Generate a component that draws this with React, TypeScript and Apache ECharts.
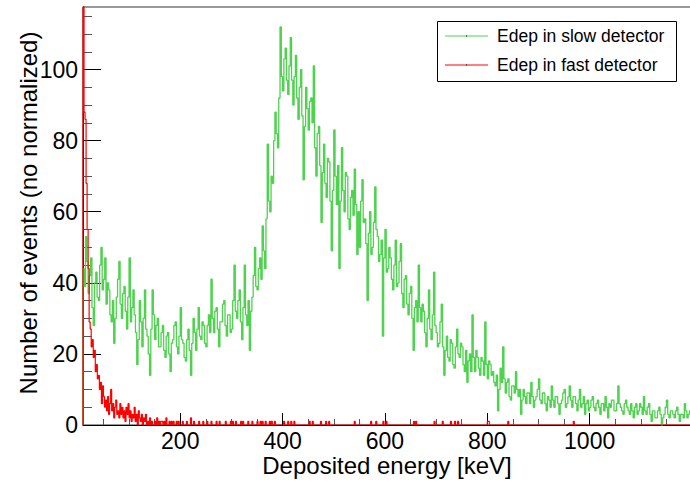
import React, { useEffect, useRef } from "react";
import * as echarts from "echarts";

// ---- axes ----
const X_MIN = 10;
const X_MAX = 1200;
const Y_MIN = 0;
const Y_MAX = 117.6;
const xMajorTicks = [200, 400, 600, 800, 1000];
const xMinorTicks = [50, 100, 150, 250, 300, 350, 450, 500, 550, 650, 700, 750, 850, 900, 950, 1050, 1100, 1150];
const yMajorTicks = [0, 20, 40, 60, 80, 100];
const yMinorTicks = [5, 10, 15, 25, 30, 35, 45, 50, 55, 65, 70, 75, 85, 90, 95, 105, 110, 115];

const xTitle = "Deposited energy [keV]";
const yTitle = "Number of events (no normalized)";
const slowName = "Edep in slow detector";
const fastName = "Edep in fast detector";

// ---- slow detector histogram: 2.5 keV bins starting at 10 keV ----
const slowBinStart = 10;
const slowBinWidth = 2.5;
const slowCounts = [
  44, 39, 53, 46, 37, 42, 47, 33, 28, 40, 43, 36, 35, 45, 50, 38, 41, 47, 34, 40,
  38, 31, 29, 35, 23, 30, 36, 41, 46, 34, 30, 37, 39, 32, 27, 36, 47, 29, 33, 38,
  31, 26, 17, 24, 35, 29, 22, 30, 38, 27, 25, 20, 14, 27, 38, 31, 24, 28, 30, 22,
  22, 26, 28, 21, 19, 25, 26, 20, 15, 23, 24, 28, 29, 22, 20, 25, 33, 24, 23, 19,
  18, 24, 27, 21, 14, 23, 30, 26, 21, 27, 33, 25, 24, 29, 28, 23, 22, 28, 31, 26,
  41, 30, 26, 32, 33, 27, 22, 29, 29, 34, 35, 28, 25, 31, 31, 26, 27, 35, 45, 32,
  30, 35, 38, 29, 24, 33, 45, 31, 28, 35, 21, 32, 36, 42, 50, 39, 38, 44, 47, 41,
  56, 49, 44, 58, 79, 63, 60, 70, 68, 80, 88, 82, 78, 92, 112, 98, 94, 103, 106, 97,
  93, 101, 109, 97, 90, 98, 104, 92, 86, 95, 100, 87, 69, 84, 95, 89, 83, 91, 92, 85,
  101, 78, 70, 82, 84, 73, 57, 71, 79, 68, 64, 75, 74, 63, 49, 66, 83, 70, 62, 73,
  44, 63, 78, 66, 60, 71, 70, 58, 55, 64, 66, 59, 72, 62, 48, 60, 50, 63, 69, 57,
  58, 51, 35, 54, 60, 48, 50, 57, 67, 55, 53, 46, 48, 52, 25, 47, 55, 43, 44, 50,
  47, 41, 38, 45, 52, 39, 40, 46, 51, 37, 33, 41, 42, 34, 31, 37, 39, 30, 21, 33,
  35, 29, 45, 33, 29, 34, 32, 26, 22, 30, 38, 27, 24, 31, 43, 28, 26, 22, 23, 29,
  34, 22, 14, 21, 25, 19, 18, 24, 23, 17, 16, 22, 27, 20, 19, 23, 22, 17, 15, 21,
  12, 18, 20, 15, 31, 19, 15, 21, 19, 16, 14, 19, 18, 14, 29, 17, 13, 18, 17, 14,
  15, 12, 11, 14, 4, 10, 16, 12, 22, 13, 9, 12, 13, 8, 7, 11, 11, 9, 15, 10,
  8, 10, 3, 7, 10, 8, 6, 9, 9, 6, 12, 8, 5, 7, 8, 10, 13, 7, 6, 9,
  9, 6, 4, 8, 7, 5, 11, 7, 5, 8, 8, 6, 3, 6, 7, 9, 10, 5, 6, 8,
  11, 7, 5, 8, 8, 6, 4, 7, 10, 5, 6, 8, 3, 6, 7, 4, 5, 7, 8, 5,
  4, 6, 7, 5, 3, 6, 6, 4, 8, 5, 2, 6, 5, 7, 7, 4, 4, 6, 11, 6,
  5, 4, 3, 6, 7, 5, 4, 3, 6, 4, 2, 5, 6, 3, 4, 6, 5, 3, 8, 4,
  3, 5, 6, 3, 1, 4, 4, 2, 2, 4, 5, 3, 0, 2, 3, 5, 7, 3, 2, 4,
  4, 3, 2, 4, 5, 3, 1, 3, 3, 2, 6, 4, 2, 3, 4, 2,
];

// ---- fast detector histogram: 2 keV bins starting at 10 keV ----
const fastBinStart = 10;
const fastBinWidth = 2;
// bins from 10 to 160 keV
const fastCountsLow = [
  130, 88, 86, 68, 55, 44, 29, 27, 22, 24,
  19, 21, 15, 17, 13, 14, 10, 12, 6, 11,
  8, 5, 7, 4, 8, 3, 6, 10, 4, 6,
  2, 5, 7, 3, 4, 2, 6, 3, 5, 2,
  4, 1, 5, 3, 6, 2, 4, 1, 3, 2,
  5, 1, 3, 0, 4, 2, 1, 3, 0, 2,
  1, 3, 0, 1, 0, 2, 0, 1, 0, 0,
  1, 0, 2, 0, 1,
];
// single events above 160 keV (keV of each hit)
const fastHitsKeV = [
  162, 165, 168, 173, 173, 178, 182, 186, 192, 196, 205, 212, 221, 221, 227, 237,
  245, 253, 260, 270, 276, 289, 299, 302, 309, 319, 322, 332, 341, 351, 356, 361,
  367, 374, 379, 384, 403, 410, 416, 423, 452, 459, 475, 485, 491, 540, 573, 583,
  596, 602, 657, 661, 697, 713, 729, 736, 742, 800, 803, 841, 968,
];

const FONT = "'Liberation Sans', Arial, Helvetica, sans-serif";
const GREEN = "#4fd24f";
const RED = "#ff0000";

function histPoints(start: number, width: number, counts: number[]) {
  const pts: number[][] = [[start, 0]];
  counts.forEach((c, i) => pts.push([start + i * width, c]));
  pts.push([start + counts.length * width, counts[counts.length - 1]]);
  return pts;
}

function fastCountsAll() {
  const nBins = Math.round((X_MAX - fastBinStart) / fastBinWidth);
  const arr: number[] = [];
  for (let i = 0; i < nBins; i++) arr.push(i < fastCountsLow.length ? fastCountsLow[i] : 0);
  fastHitsKeV.forEach((e) => {
    const i = Math.floor((e - fastBinStart) / fastBinWidth);
    if (i >= fastCountsLow.length && i < nBins) arr[i] += 1;
  });
  return arr;
}

export default function App() {
  const ref = useRef<HTMLDivElement>(null);
  useEffect(() => {
    if (!ref.current) return;
    const chart = echarts.init(ref.current, undefined, { renderer: "svg" });
    const tickLabel = { fontSize: 23, color: "#000", fontFamily: FONT, formatter: (v: number) => String(v) };
    const option: any = {
      animation: false,
      backgroundColor: "#fff",
      grid: {
        left: 83,
        right: 2,
        top: 7,
        bottom: 58,
        show: true,
        borderColor: "#333",
        borderWidth: 1,
        containLabel: false,
        outerBoundsMode: "none",
      },
      xAxis: [
        {
          type: "value",
          min: X_MIN,
          max: X_MAX,
          position: "bottom",
          axisLine: { show: true, lineStyle: { color: "#000", width: 1 } },
          axisTick: { show: true, inside: true, length: 12, customValues: xMajorTicks, lineStyle: { color: "#000" } },
          axisLabel: { show: true, customValues: xMajorTicks, margin: 4, ...tickLabel },
          splitLine: { show: false },
        },
        {
          type: "value",
          min: X_MIN,
          max: X_MAX,
          position: "bottom",
          axisLine: { show: false },
          axisTick: { show: true, inside: true, length: 6, customValues: xMinorTicks, lineStyle: { color: "#555" } },
          axisLabel: { show: false },
          splitLine: { show: false },
        },
      ],
      yAxis: [
        {
          type: "value",
          min: Y_MIN,
          max: Y_MAX,
          position: "left",
          axisLine: { show: true, lineStyle: { color: "#000", width: 1 } },
          axisTick: { show: true, inside: true, length: 18, customValues: yMajorTicks, lineStyle: { color: "#000" } },
          axisLabel: { show: true, customValues: yMajorTicks, margin: 5, ...tickLabel },
          splitLine: { show: false },
        },
        {
          type: "value",
          min: Y_MIN,
          max: Y_MAX,
          position: "left",
          axisLine: { show: false },
          axisTick: { show: true, inside: true, length: 9, customValues: yMinorTicks, lineStyle: { color: "#555" } },
          axisLabel: { show: false },
          splitLine: { show: false },
        },
      ],
      series: [
        {
          name: slowName,
          type: "line",
          step: "end",
          data: histPoints(slowBinStart, slowBinWidth, slowCounts),
          showSymbol: false,
          symbol: "none",
          clip: true,
          lineStyle: { color: GREEN, width: 1.3 },
          z: 2,
        },
        {
          name: fastName,
          type: "line",
          step: "end",
          data: histPoints(fastBinStart, fastBinWidth, fastCountsAll()),
          showSymbol: false,
          symbol: "none",
          clip: true,
          lineStyle: { color: RED, width: 1.2 },
          z: 3,
        },
      ],
      graphic: [
        {
          type: "text",
          x: 28.7,
          y: 213,
          rotation: Math.PI / 2,
          style: { text: yTitle, fontSize: 24, fontFamily: FONT, fill: "#000", align: "center", verticalAlign: "middle" },
        },
        {
          type: "text",
          x: 387,
          y: 465,
          style: { text: xTitle, fontSize: 24, fontFamily: FONT, fill: "#000", align: "center", verticalAlign: "middle" },
        },
        {
          type: "group",
          z: 100,
          children: [
            { type: "rect", shape: { x: 437.5, y: 21.5, width: 239, height: 60 }, style: { fill: "#fff", stroke: "#000", lineWidth: 1 }, z: 100 },
            { type: "line", shape: { x1: 445, y1: 36, x2: 488, y2: 36 }, style: { stroke: GREEN, lineWidth: 1 }, z: 101 },
            { type: "line", shape: { x1: 445, y1: 65, x2: 488, y2: 65 }, style: { stroke: RED, lineWidth: 1 }, z: 101 },
            { type: "rect", shape: { x: 466, y: 35.5, width: 1, height: 1 }, style: { fill: "#000" }, z: 102 },
            { type: "rect", shape: { x: 466, y: 64.5, width: 1, height: 1 }, style: { fill: "#000" }, z: 102 },
            { type: "text", x: 497, y: 36, style: { text: slowName, fontSize: 17.5, fontFamily: FONT, fill: "#000", align: "left", verticalAlign: "middle" }, z: 101 },
            { type: "text", x: 497, y: 65, style: { text: fastName, fontSize: 17.5, fontFamily: FONT, fill: "#000", align: "left", verticalAlign: "middle" }, z: 101 },
          ],
        },
      ],
    };
    chart.setOption(option);
    return () => chart.dispose();
  }, []);
  return (
    <div style={{ position: "fixed", left: 0, top: 0, width: 690, height: 483, overflow: "hidden", background: "#fff" }}>
      <div ref={ref} style={{ width: 694, height: 483 }} />
    </div>
  );
}
